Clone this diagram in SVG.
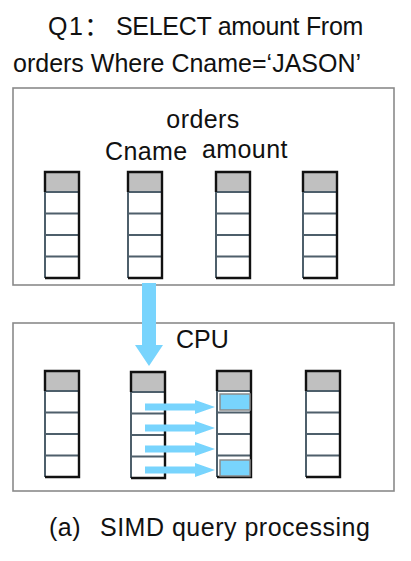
<svg xmlns="http://www.w3.org/2000/svg" width="411" height="561" viewBox="0 0 411 561">
<style>
text{font-family:"Liberation Sans","Noto Sans CJK SC",Arial,sans-serif;fill:#111;font-size:25px}
.box{fill:#fff;stroke:#8a8a8a;stroke-width:1.6}
.arrow{fill:#78d4fd}
.hl{fill:#78d4fd;stroke:#8a8a8a;stroke-width:1.5}
</style>
<defs>
<g id="col">
<rect x="0" y="0" width="34" height="20" fill="#c0c0c0"/>
<rect x="0" y="20" width="34" height="86" fill="#fff"/>
<path d="M0 20H34M0 41.5H34M0 63H34M0 84.5H34M0 20V106" fill="none" stroke="#4e5f6b" stroke-width="2"/>
<path d="M0 20V0H34V106H0" fill="none" stroke="#111" stroke-width="2.4"/>
</g>
</defs>
<rect width="411" height="561" fill="#fff"/>
<g id="title">
<text y="35"><tspan x="48" letter-spacing="1.5">Q1： </tspan><tspan x="116" letter-spacing="-0.3">SELECT amount From</tspan></text>
<text x="13" y="72">orders Where Cname=‘JASON’</text>
</g>
<g id="orders-table">
<rect class="box" x="13" y="88" width="381" height="197"/>
<text x="203" y="128" text-anchor="middle" letter-spacing="0.4">orders</text>
<text x="105" y="160" letter-spacing="0.4">Cname</text>
<text x="202" y="158" letter-spacing="0.4">amount</text>
<use href="#col" x="45" y="172"/>
<use href="#col" x="128" y="172"/>
<use href="#col" x="216" y="172"/>
<use href="#col" x="303" y="172"/>
</g>
<g id="cpu">
<rect class="box" x="13" y="323" width="381" height="168"/>
<text x="176" y="348">CPU</text>
<use href="#col" x="45" y="371"/>
<use href="#col" x="131" y="372"/>
<use href="#col" x="217" y="371"/>
<use href="#col" x="306" y="371"/>
<rect class="hl" x="220" y="394" width="30" height="16"/>
<rect class="hl" x="220" y="460" width="30" height="16"/>
</g>
<g id="connectors">
<polygon class="arrow" points="142,283 156,283 156,345 163,345 149,366 135,345 142,345"/>
<polygon class="arrow" points="145,403.5 195,403.5 195,400 215,407 195,414 195,410.5 145,410.5"/>
<polygon class="arrow" points="145,424.5 195,424.5 195,421 215,428 195,435 195,431.5 145,431.5"/>
<polygon class="arrow" points="145,445.5 195,445.5 195,442 215,449 195,456 195,452.5 145,452.5"/>
<polygon class="arrow" points="145,466.5 195,466.5 195,463 215,470 195,477 195,473.5 145,473.5"/>
</g>
<g id="caption">
<text y="536" letter-spacing="0.5"><tspan x="49">(a) </tspan><tspan x="100">SIMD query processing</tspan></text>
</g>
</svg>
